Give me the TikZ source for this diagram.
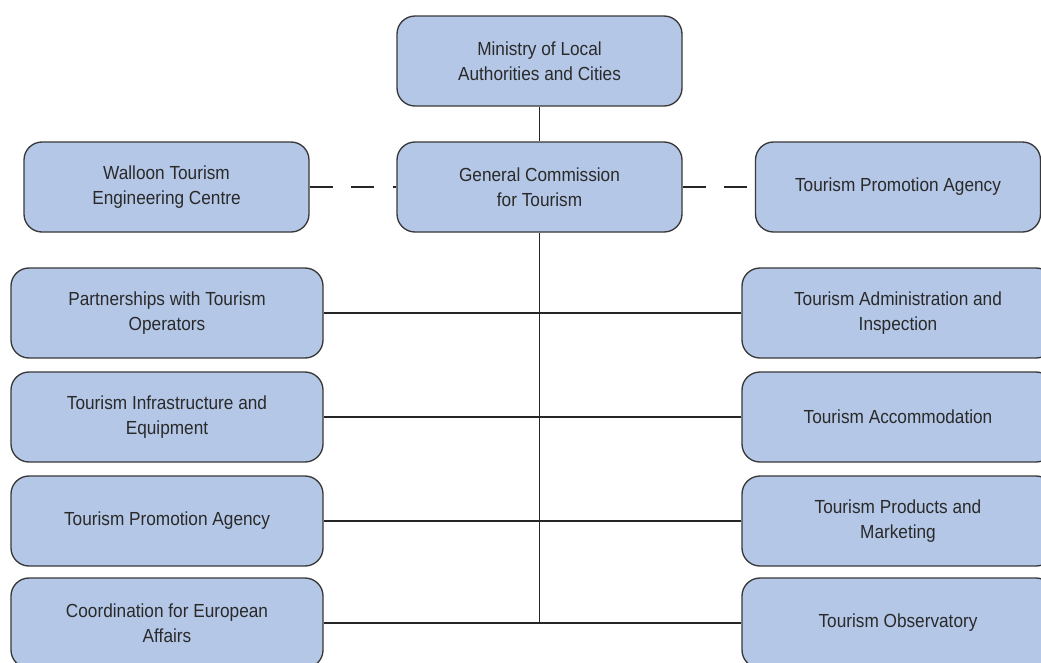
\documentclass[tikz,border=0pt]{standalone}
\usepackage{fontspec}
\setmainfont{Liberation Sans}[FakeStretch=0.91]
\usetikzlibrary{positioning}
\definecolor{boxfill}{HTML}{B4C7E7}
\definecolor{boxline}{HTML}{383838}
\definecolor{boxtext}{HTML}{2A2A2A}

\tikzset{
  unit box/.style={draw=boxline, line width=1pt, fill=boxfill, rounded corners=13.5pt,
    text=boxtext, align=center, font=\fontsize{14.2}{18.75}\selectfont,
    inner sep=0pt, minimum height=67.5pt},
  top box/.style={unit box, minimum width=213.75pt},
  side box/.style={unit box, minimum width=234pt},
  link/.style={draw=black!85, line width=0.8pt},
  dashlink/.style={link, dash pattern=on 17.25pt off 13.9pt},
}

\begin{document}
\begin{tikzpicture}[x=0.75pt, y=-0.75pt]
  \useasboundingbox (0,0) rectangle (1041,662);

  % Top levels
  \node[top box] (ministry) at (539.5, 61) {Ministry of Local\\Authorities and Cities};
  \node[top box] (commission) at (539.5, 187) {General Commission\\for Tourism};
  \node[top box] (walloon) at (166.5, 187) {Walloon Tourism\\Engineering Centre};
  \node[top box] (promo) at (898, 187) {Tourism Promotion Agency};

  % Left column
  \node[side box] (l1) at (167, 313) {Partnerships with Tourism\\Operators};
  \node[side box] (l2) at (167, 417) {Tourism Infrastructure and\\Equipment};
  \node[side box] (l3) at (167, 521) {Tourism Promotion Agency};
  \node[side box] (l4) at (167, 623) {Coordination for European\\Affairs};

  % Right column
  \node[side box] (r1) at (898, 313) {Tourism Administration and\\Inspection};
  \node[side box] (r2) at (898, 417) {Tourism Accommodation};
  \node[side box] (r3) at (898, 521) {Tourism Products and\\Marketing};
  \node[side box] (r4) at (898, 623) {Tourism Observatory};

  % Links
  \draw[link] (ministry) -- (commission);
  \draw[link] (commission) -- (commission |- l4);
  \draw[dashlink] (walloon) -- (commission);
  \draw[dashlink] (commission) -- (promo);
  \draw[link] (l1) -- (r1);
  \draw[link] (l2) -- (r2);
  \draw[link] (l3) -- (r3);
  \draw[link] (l4) -- (r4);
\end{tikzpicture}
\end{document}
